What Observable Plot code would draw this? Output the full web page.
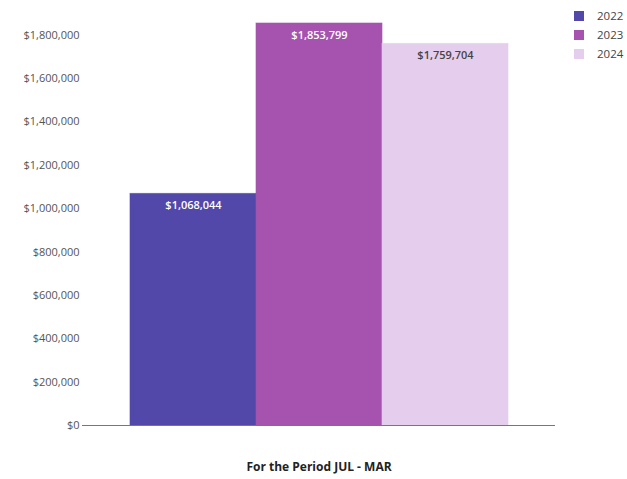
<!DOCTYPE html>
<html>
<head>
<meta charset="utf-8">
<script src="https://cdn.jsdelivr.net/npm/d3@7"></script>
<script src="https://cdn.jsdelivr.net/npm/@observablehq/plot@0.6"></script>
<style>
  html, body { margin: 0; padding: 0; background: #fff; overflow: hidden; }
  #wrap { position: relative; width: 627px; height: 479px; font-family: "Open Sans", sans-serif; overflow: hidden; }
  #legend { position: absolute; left: 574px; top: 6px; font-size: 11.5px; color: #444; white-space: nowrap; }
  #legend div { display: flex; align-items: center; height: 19px; }
  #legend span.sw { display: inline-block; width: 10px; height: 10px; margin-right: 13px; }
</style>
</head>
<body>
<div id="wrap"><div id="chart"></div><div id="legend"></div></div>
<script>
const years = ["2022", "2023", "2024"];
const values = [1068044, 1853799, 1759704];
const colors = ["#5248a9", "#a553ae", "#e5cdee"];
const labelColors = ["#ffffff", "#ffffff", "#444444"];
const yTicks = [0, 200000, 400000, 600000, 800000, 1000000, 1200000, 1400000, 1600000, 1800000];
const xLabel = "For the Period JUL - MAR";

const data = years.map((y, i) => ({year: y, value: values[i], color: colors[i], lc: labelColors[i]}));
const fmt = d3.format("$,");

const chart = Plot.plot({
  width: 627,
  height: 479,
  marginLeft: 82,
  marginRight: 72,
  marginTop: 13,
  marginBottom: 54,
  style: {fontFamily: "Open Sans, sans-serif", fontSize: "11px", color: "#555"},
  x: {domain: years, paddingInner: 0, paddingOuter: 0.372},
  y: {domain: [0, 1900000]},
  marks: [
    Plot.barY(data, {x: "year", y: "value", fill: "color", stroke: "color", strokeOpacity: 0.6}),
    Plot.text(data, {x: "year", y: "value", text: d => fmt(d.value), fill: "lc", dy: 12, fontWeight: 600, fontSize: 11}),
    Plot.ruleY([0], {stroke: "#777", strokeWidth: 1}),
    Plot.axisY({ticks: yTicks, tickFormat: fmt, tickSize: 0, tickPadding: 3, label: null, fill: "#555"}),
    Plot.axisX({tickSize: 0, tickFormat: () => "", label: xLabel, labelAnchor: "center", labelOffset: 45, fontWeight: 700, fontSize: 12, fill: "#222"})
  ]
});
document.getElementById("chart").appendChild(chart);

const legend = document.getElementById("legend");
years.forEach((y, i) => {
  const row = document.createElement("div");
  row.innerHTML = `<span class="sw" style="background:${colors[i]}"></span><span>${y}</span>`;
  legend.appendChild(row);
});
</script>
</body>
</html>
